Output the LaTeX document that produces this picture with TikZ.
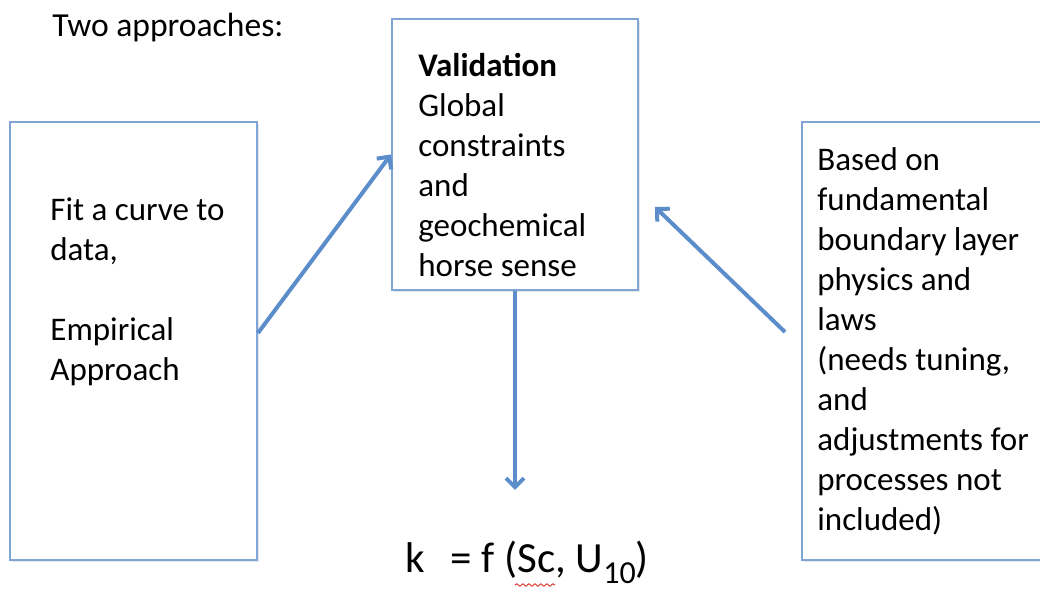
\documentclass[tikz,border=0pt]{standalone}
\usepackage{fontspec}
\setmainfont{Carlito}
\usetikzlibrary{arrows.meta, positioning, calc, shadows, decorations.pathmorphing}
\definecolor{colBoxLine}{HTML}{7FA5D6}
\definecolor{colArrow}{HTML}{5B8DCA}
\definecolor{colWave}{HTML}{E03C31}
\tikzset{
  panel/.style={
    draw=colBoxLine, line width=1pt, fill=white, inner sep=0pt,
    drop shadow={opacity=0.2, shadow xshift=0.8pt, shadow yshift=-0.8pt}
  },
  ptext/.style={
    anchor=base west, align=left, inner sep=0pt,
    font=\fontsize{16.5}{20}\selectfont
  },
  bigarr/.style={
    -{Straight Barb[length=4.5pt,width=9pt]},
    line width=2pt, draw=colArrow
  },
  spellwave/.style={
    draw=colWave, line width=0.5pt, decorate,
    decoration={snake, amplitude=0.6pt, segment length=3pt}
  }
}

\begin{document}
\begin{tikzpicture}[x=0.5pt, y=-0.5pt]
  \useasboundingbox (0,0) rectangle (1040,592);
  % the three boxes
  \node[panel, minimum width=123.5pt, minimum height=219pt] (emp)  at (133.5,341) {};
  \node[panel, minimum width=123pt,   minimum height=135.5pt] (val) at (515,154.5) {};
  \node[panel, minimum width=125pt,   minimum height=219pt] (phys) at (927,341) {};
  % texts (anchored at the baseline of their last line)
  \node[ptext, font=\fontsize{16.8}{20}\selectfont] (title) at (52,37) {Two approaches:};
  \node[ptext] (empTxt) at (50,381) {Fit a curve to\\data,\\[20pt]Empirical\\Approach};
  \node[ptext] (valTxt) at (418,277) {\textbf{Validation}\\Global\\constraints\\and\\geochemical\\horse sense};
  \node[ptext] (physTxt) at (817,531) {Based on\\fundamental\\boundary layer\\physics and\\laws\\(needs tuning,\\and\\adjustments for\\processes not\\included)};
  \node[anchor=base west, inner sep=0pt, font=\fontsize{21.5}{24}\selectfont] (fml) at (405,573)
    {k\ \ \hspace{3pt}= f (Sc, U\raisebox{-5.5pt}{\fontsize{16}{16}\selectfont 10})};
  % arrows
  \coordinate (physFrom) at (785,332);
  \coordinate (physTo)   at (655,207);
  \coordinate (kTo)      at (515,490);
  \draw[bigarr] ([yshift=4pt]emp.east) -- (val.west);
  \draw[bigarr] (physFrom) -- (physTo);
  \draw[bigarr] (val.south) -- (kTo);
  % spell-check mark under Sc
  \draw[spellwave] (515,585) -- (555,585);
\end{tikzpicture}
\end{document}
